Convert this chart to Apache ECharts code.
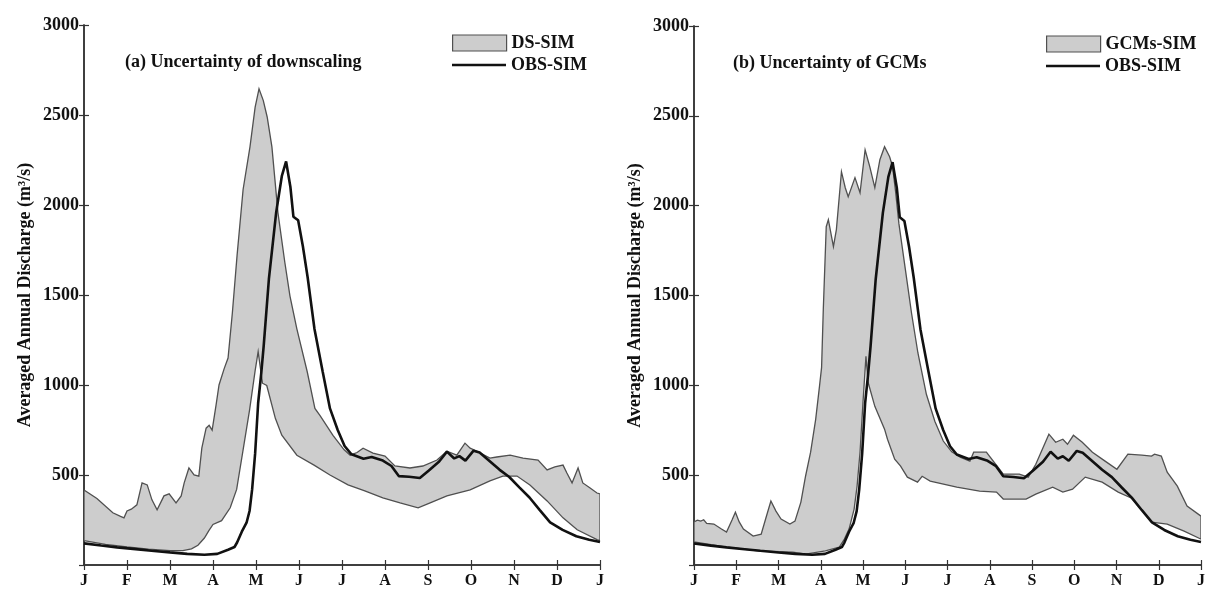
<!DOCTYPE html>
<html>
<head>
<meta charset="utf-8">
<script src="https://cdn.jsdelivr.net/npm/echarts@6/dist/echarts.min.js"></script>
<style>
  html, body { margin: 0; padding: 0; background: #fff; }
  #chart { width: 1208px; height: 589px; }
</style>
</head>
<body>
<div id="chart"></div>
<script>
// month tick labels (boundaries Jan..Jan)
const monthLabels = ['J', 'F', 'M', 'A', 'M', 'J', 'J', 'A', 'S', 'O', 'N', 'D', 'J'];
const panelTitles = ['(a) Uncertainty of downscaling', '(b) Uncertainty of GCMs'];
const yTitle = 'Averaged Annual Discharge (m\u00b3/s)';

// [month position, discharge m3/s]
const dsUpper = [[0.00,417],[0.30,370],[0.67,290],[0.85,270],[0.93,262],[1.00,300],[1.10,310],[1.23,334],[1.35,456],[1.47,445],[1.58,362],[1.70,307],[1.86,384],[1.98,395],[2.14,345],[2.26,384],[2.33,456],[2.44,539],[2.56,500],[2.67,494],[2.74,649],[2.84,760],[2.91,776],[2.98,749],[3.07,887],[3.14,1000],[3.26,1091],[3.35,1150],[3.45,1400],[3.56,1720],[3.70,2086],[3.86,2323],[3.98,2544],[4.07,2645],[4.17,2580],[4.26,2489],[4.37,2323],[4.44,2141],[4.51,1958],[4.67,1682],[4.79,1494],[4.95,1312],[5.19,1075],[5.37,870],[5.49,830],[5.79,720],[6.05,640],[6.19,610],[6.35,625],[6.49,649],[6.72,622],[7.00,605],[7.23,550],[7.58,539],[7.88,550],[8.21,583],[8.44,632],[8.67,610],[8.86,677],[8.98,649],[9.14,632],[9.44,594],[9.60,600],[9.91,610],[10.21,594],[10.56,583],[10.77,528],[10.95,545],[11.14,555],[11.23,511],[11.35,456],[11.49,539],[11.60,456],[11.77,428],[11.93,400],[12.00,395]];
const dsLower = [[0.00,135],[0.50,115],[1.00,100],[1.50,88],[2.00,80],[2.30,80],[2.50,90],[2.65,110],[2.80,150],[2.90,190],[3.00,225],[3.20,246],[3.40,318],[3.55,420],[3.70,640],[3.85,860],[3.98,1080],[4.05,1185],[4.15,1010],[4.25,997],[4.45,815],[4.60,721],[4.95,610],[5.35,555],[5.72,500],[6.14,445],[6.53,412],[6.95,373],[7.35,345],[7.77,318],[8.05,345],[8.44,384],[8.98,417],[9.44,467],[9.74,494],[10.07,494],[10.37,445],[10.77,356],[11.14,262],[11.47,196],[11.93,141],[12.00,135]];

const gcmUpper = [[0.00,239],[0.08,250],[0.16,244],[0.23,252],[0.30,232],[0.47,228],[0.65,200],[0.77,183],[0.90,250],[0.98,294],[1.07,240],[1.17,200],[1.40,161],[1.59,172],[1.70,260],[1.82,356],[1.94,300],[2.06,256],[2.27,228],[2.39,244],[2.53,350],[2.64,494],[2.76,628],[2.88,811],[2.97,994],[3.02,1100],[3.06,1420],[3.13,1883],[3.18,1922],[3.30,1772],[3.37,1867],[3.49,2189],[3.58,2100],[3.65,2050],[3.81,2156],[3.93,2072],[4.05,2311],[4.16,2217],[4.28,2100],[4.40,2256],[4.51,2328],[4.63,2272],[4.70,2217],[4.77,2080],[4.85,1900],[5.00,1650],[5.15,1400],[5.30,1180],[5.50,950],[5.70,800],[5.90,690],[6.10,630],[6.30,600],[6.53,578],[6.62,628],[6.92,628],[7.23,533],[7.32,506],[7.70,506],[7.91,489],[8.09,561],[8.40,728],[8.56,683],[8.73,700],[8.84,672],[8.98,722],[9.19,683],[9.43,628],[9.73,578],[10.01,533],[10.27,617],[10.60,611],[10.83,606],[10.90,617],[11.06,606],[11.20,517],[11.44,439],[11.67,328],[12.00,272]];
const gcmLower = [[0.00,128],[0.77,100],[1.57,78],[2.34,72],[2.64,61],[3.11,78],[3.44,100],[3.56,144],[3.67,200],[3.79,311],[3.86,439],[3.93,628],[4.00,906],[4.07,1161],[4.12,1017],[4.28,883],[4.51,756],[4.58,700],[4.75,589],[4.89,550],[5.05,489],[5.29,461],[5.40,494],[5.59,467],[6.22,433],[6.76,411],[7.16,406],[7.32,367],[7.86,367],[8.09,394],[8.49,433],[8.73,406],[8.96,422],[9.26,489],[9.66,461],[10.04,406],[10.36,372],[10.60,305],[10.83,239],[11.20,228],[11.60,189],[12.00,144]];

// observed-driven simulation, same curve in both panels
const obsSim = [[0.00,120],[0.40,108],[0.77,98],[1.20,88],[1.57,79],[2.00,70],[2.40,62],[2.80,57],[3.10,62],[3.35,85],[3.50,100],[3.56,125],[3.67,185],[3.78,235],[3.85,300],[3.91,420],[3.98,620],[4.05,900],[4.12,1060],[4.18,1220],[4.30,1589],[4.47,1960],[4.60,2160],[4.70,2242],[4.80,2100],[4.87,1935],[4.98,1915],[5.09,1771],[5.20,1600],[5.36,1311],[5.55,1075],[5.72,870],[5.90,750],[6.06,661],[6.22,615],[6.50,590],[6.69,600],[6.95,580],[7.15,550],[7.32,494],[7.56,490],[7.81,483],[8.02,525],[8.26,575],[8.44,630],[8.61,592],[8.73,605],[8.87,580],[9.06,635],[9.20,625],[9.43,578],[9.66,530],[9.89,489],[10.13,430],[10.36,375],[10.60,305],[10.84,237],[11.13,195],[11.45,160],[11.75,140],[12.00,128]];

const FONT = 'Liberation Serif';
const BAND_FILL = '#cdcdcd';
const BAND_EDGE = '#505050';
const AXIS_COLOR = '#333';
const OBS_COLOR = '#111';

var chart = echarts.init(document.getElementById('chart'), null, { renderer: 'canvas' });

var grids = [
  { left: 84, top: 25, width: 516, height: 542 },
  { left: 694, top: 26, width: 513, height: 540 }
];

function axisLine() {
  return { show: true, lineStyle: { color: AXIS_COLOR, width: 1.5 } };
}
function tick() {
  return { show: true, inside: true, length: 5, lineStyle: { color: AXIS_COLOR, width: 1.2 } };
}

var xAxis = [], yAxis = [];
grids.forEach(function (g, i) {
  xAxis.push({
    type: 'value', gridIndex: i, min: 0, max: 12, interval: 1, position: 'bottom',
    axisLine: axisLine(), axisTick: tick(), splitLine: { show: false },
    axisLabel: {
      margin: 8, color: '#111', fontFamily: FONT, fontWeight: 'bold', fontSize: 16,
      formatter: function (v) { return monthLabels[Math.round(v)]; }
    }
  });
  xAxis.push({
    type: 'value', gridIndex: i, min: 0, max: 12, interval: 1, position: 'top',
    axisLine: axisLine(), axisTick: tick(), splitLine: { show: false }, axisLabel: { show: false }
  });
  yAxis.push({
    type: 'value', gridIndex: i, min: 0, max: 3000, interval: 500, position: 'left',
    axisLine: axisLine(), axisTick: tick(), splitLine: { show: false },
    axisLabel: {
      margin: 5, color: '#111', fontFamily: FONT, fontWeight: 'bold', fontSize: 18,
      showMinLabel: false,
      formatter: function (v) { return String(v); }
    },
    name: yTitle, nameLocation: 'middle', nameGap: 50, nameRotate: 90,
    nameTextStyle: { color: '#111', fontFamily: FONT, fontWeight: 'bold', fontSize: 18 }
  });
  yAxis.push({
    type: 'value', gridIndex: i, min: 0, max: 3000, interval: 500, position: 'right',
    axisLine: axisLine(), axisTick: tick(), splitLine: { show: false }, axisLabel: { show: false }
  });
});

function bandSeries(name, upper, lower, panel) {
  var ring = upper.concat(lower.slice().reverse());
  return {
    name: name, type: 'custom', xAxisIndex: panel * 2, yAxisIndex: panel * 2,
    data: ring, z: 2, silent: true, clip: true,
    itemStyle: { color: BAND_FILL, borderColor: BAND_EDGE, borderWidth: 1 },
    renderItem: function (params, api) {
      if (params.dataIndex !== 0) return null;
      return {
        type: 'polygon',
        shape: { points: ring.map(function (p) { return api.coord(p); }) },
        style: { fill: BAND_FILL, stroke: BAND_EDGE, lineWidth: 1.3 }
      };
    }
  };
}

function obsSeries(panel) {
  return {
    name: 'OBS-SIM', type: 'line', xAxisIndex: panel * 2, yAxisIndex: panel * 2,
    data: obsSim, showSymbol: false, symbol: 'none', z: 3,
    lineStyle: { color: OBS_COLOR, width: 2.6 }, itemStyle: { color: OBS_COLOR }
  };
}

var legendText = { color: '#111', fontFamily: FONT, fontWeight: 'bold', fontSize: 18 };
var titleText = { color: '#111', fontFamily: FONT, fontWeight: 'bold', fontSize: 18 };

function bandLegend(name, left, top) {
  return {
    left: left, top: top, itemWidth: 54, itemHeight: 16, selectedMode: false, textStyle: legendText,
    data: [{ name: name, icon: 'rect', itemStyle: { color: BAND_FILL, borderColor: BAND_EDGE, borderWidth: 1.2 } }]
  };
}
function lineLegend(left, top) {
  return {
    left: left, top: top, itemWidth: 54, itemHeight: 2.5, selectedMode: false, textStyle: legendText,
    data: [{ name: 'OBS-SIM', icon: 'rect', itemStyle: { color: OBS_COLOR, borderWidth: 0 } }]
  };
}

chart.setOption({
  animation: false,
  backgroundColor: '#fff',
  title: [
    { text: panelTitles[0], left: 120, top: 48, textStyle: titleText },
    { text: panelTitles[1], left: 728, top: 49, textStyle: titleText }
  ],
  legend: [
    bandLegend('DS-SIM', 447, 29),
    lineLegend(447, 51),
    bandLegend('GCMs-SIM', 1041, 30),
    lineLegend(1041, 52)
  ],
  grid: grids,
  xAxis: xAxis,
  yAxis: yAxis,
  series: [
    bandSeries('DS-SIM', dsUpper, dsLower, 0),
    obsSeries(0),
    bandSeries('GCMs-SIM', gcmUpper, gcmLower, 1),
    obsSeries(1)
  ]
});
</script>
</body>
</html>
